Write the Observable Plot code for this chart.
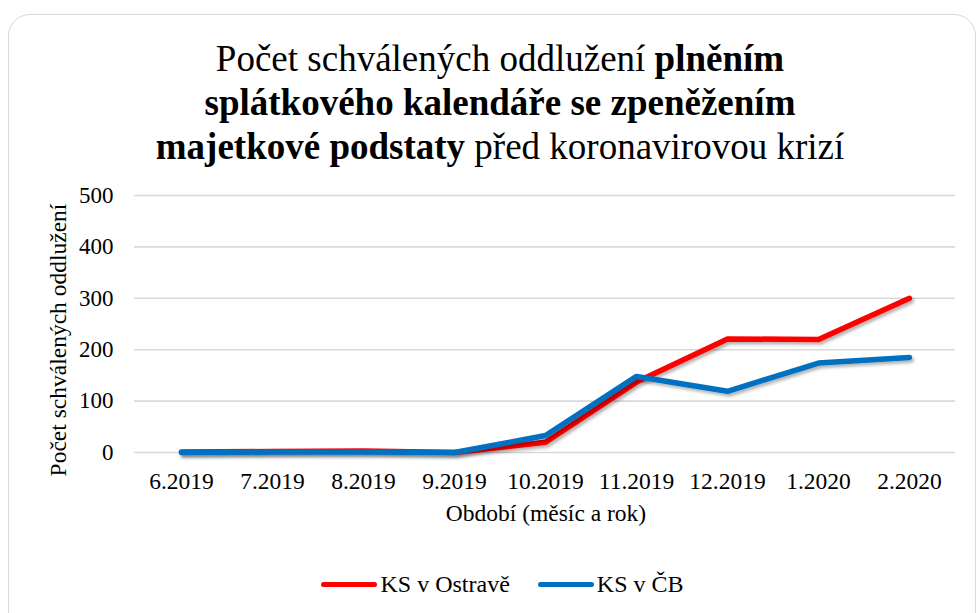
<!DOCTYPE html>
<html>
<head>
<meta charset="utf-8">
<script src="https://cdn.jsdelivr.net/npm/d3@7"></script>
<script src="https://cdn.jsdelivr.net/npm/@observablehq/plot@0.6"></script>
<style>
  html, body { margin: 0; padding: 0; background: #fff; }
  body { width: 978px; height: 613px; position: relative; overflow: hidden; color: #000; }
  .serif { font-family: 'Liberation Serif', 'DejaVu Serif', serif; }
  #card { position: absolute; left: 8px; top: 14px; width: 968px; height: 640px; border: 1.5px solid #d9d9d9; border-radius: 22px; box-sizing: border-box; }
  #title { position: absolute; left: 100px; top: 37px; width: 800px; text-align: center; font-size: 37px; line-height: 44px; white-space: nowrap; }
  #chart { position: absolute; left: 0; top: 180px; }
  #xlabel { position: absolute; left: 346px; width: 400px; top: 502px; text-align: center; font-size: 23.5px; line-height: 23px; white-space: nowrap; }
  #ylabel { position: absolute; left: 0; top: 0; transform-origin: 0 0; transform: translate(66px, 340px) rotate(-90deg) translate(-50%, -19px); font-size: 23.5px; line-height: 23px; white-space: nowrap; }
  #legend { position: absolute; left: 0; width: 1005px; top: 572px; display: flex; justify-content: center; align-items: center; font-size: 24px; line-height: 24px; white-space: nowrap; }
  .sw { display: inline-block; width: 56px; height: 5px; border-radius: 3px; margin-right: 3px; }
  .item { display: flex; align-items: center; }
</style>
</head>
<body>
<div id="card"></div>
<div id="title" class="serif">Počet schválených oddlužení <b>plněním</b><br><b>splátkového kalendáře se zpeněžením</b><br><b>majetkové podstaty</b> před koronavirovou krizí</div>
<div id="chart"></div>
<div id="ylabel" class="serif">Počet schválených oddlužení</div>
<div id="xlabel" class="serif">Období (měsíc a rok)</div>
<div id="legend" class="serif"></div>
<script>
const months = ["6.2019","7.2019","8.2019","9.2019","10.2019","11.2019","12.2019","1.2020","2.2020"];
const ostrava = [1, 2, 3, 0, 20, 137, 221, 220, 300];
const cb = [0, 1, 1, 0, 33, 148, 119, 174, 185];
const seriesNames = ["KS v Ostravě", "KS v ČB"];
const seriesColors = ["#ff0000", "#0070c0"];
const yTicks = [0, 100, 200, 300, 400, 500];

const rows = [];
months.forEach((m, i) => rows.push({month: m, value: ostrava[i], series: seriesNames[0]}));
months.forEach((m, i) => rows.push({month: m, value: cb[i], series: seriesNames[1]}));

const chart = Plot.plot({
  width: 978,
  height: 355,
  marginLeft: 134,
  marginRight: 23,
  marginTop: 15,
  marginBottom: 83,
  style: { fontFamily: "Liberation Serif, serif", fontSize: "23px", color: "#000", background: "transparent" },
  x: { type: "point", domain: months, padding: 0.5, label: null },
  y: { domain: [0, 500], ticks: yTicks, label: null },
  color: { domain: seriesNames, range: seriesColors },
  marks: [
    Plot.gridY(yTicks, { stroke: "#d9d9d9", strokeOpacity: 1, strokeWidth: 1.6 }),
    Plot.axisY(yTicks, { tickSize: 0, tickPadding: 21, label: null, fontSize: 23 }),
    Plot.axisX({ tickSize: 0, tickPadding: 20, label: null, fontSize: 23.5 }),
    Plot.line(rows, { x: "month", y: "value", z: "series", stroke: "series", strokeWidth: 5.5, strokeLinecap: "round", strokeLinejoin: "round" })
  ]
});
document.getElementById("chart").appendChild(chart);

// drop shadow for lines
const svg = d3.select(chart);
const defs = svg.insert("defs", ":first-child");
const f = defs.append("filter").attr("id", "shadow").attr("x", "-10%").attr("y", "-10%").attr("width", "130%").attr("height", "130%");
f.append("feDropShadow").attr("dx", 2).attr("dy", 2.5).attr("stdDeviation", 1.8).attr("flood-color", "#000").attr("flood-opacity", 0.3);
svg.selectAll("g[aria-label='line'] path").attr("filter", "url(#shadow)");

// legend
const legend = d3.select("#legend");
seriesNames.forEach((name, i) => {
  const it = legend.append("div").attr("class", "item").style("margin-right", i === 0 ? "28px" : "0");
  it.append("span").attr("class", "sw").style("background", seriesColors[i]);
  it.append("span").text(name);
});
</script>
</body>
</html>
